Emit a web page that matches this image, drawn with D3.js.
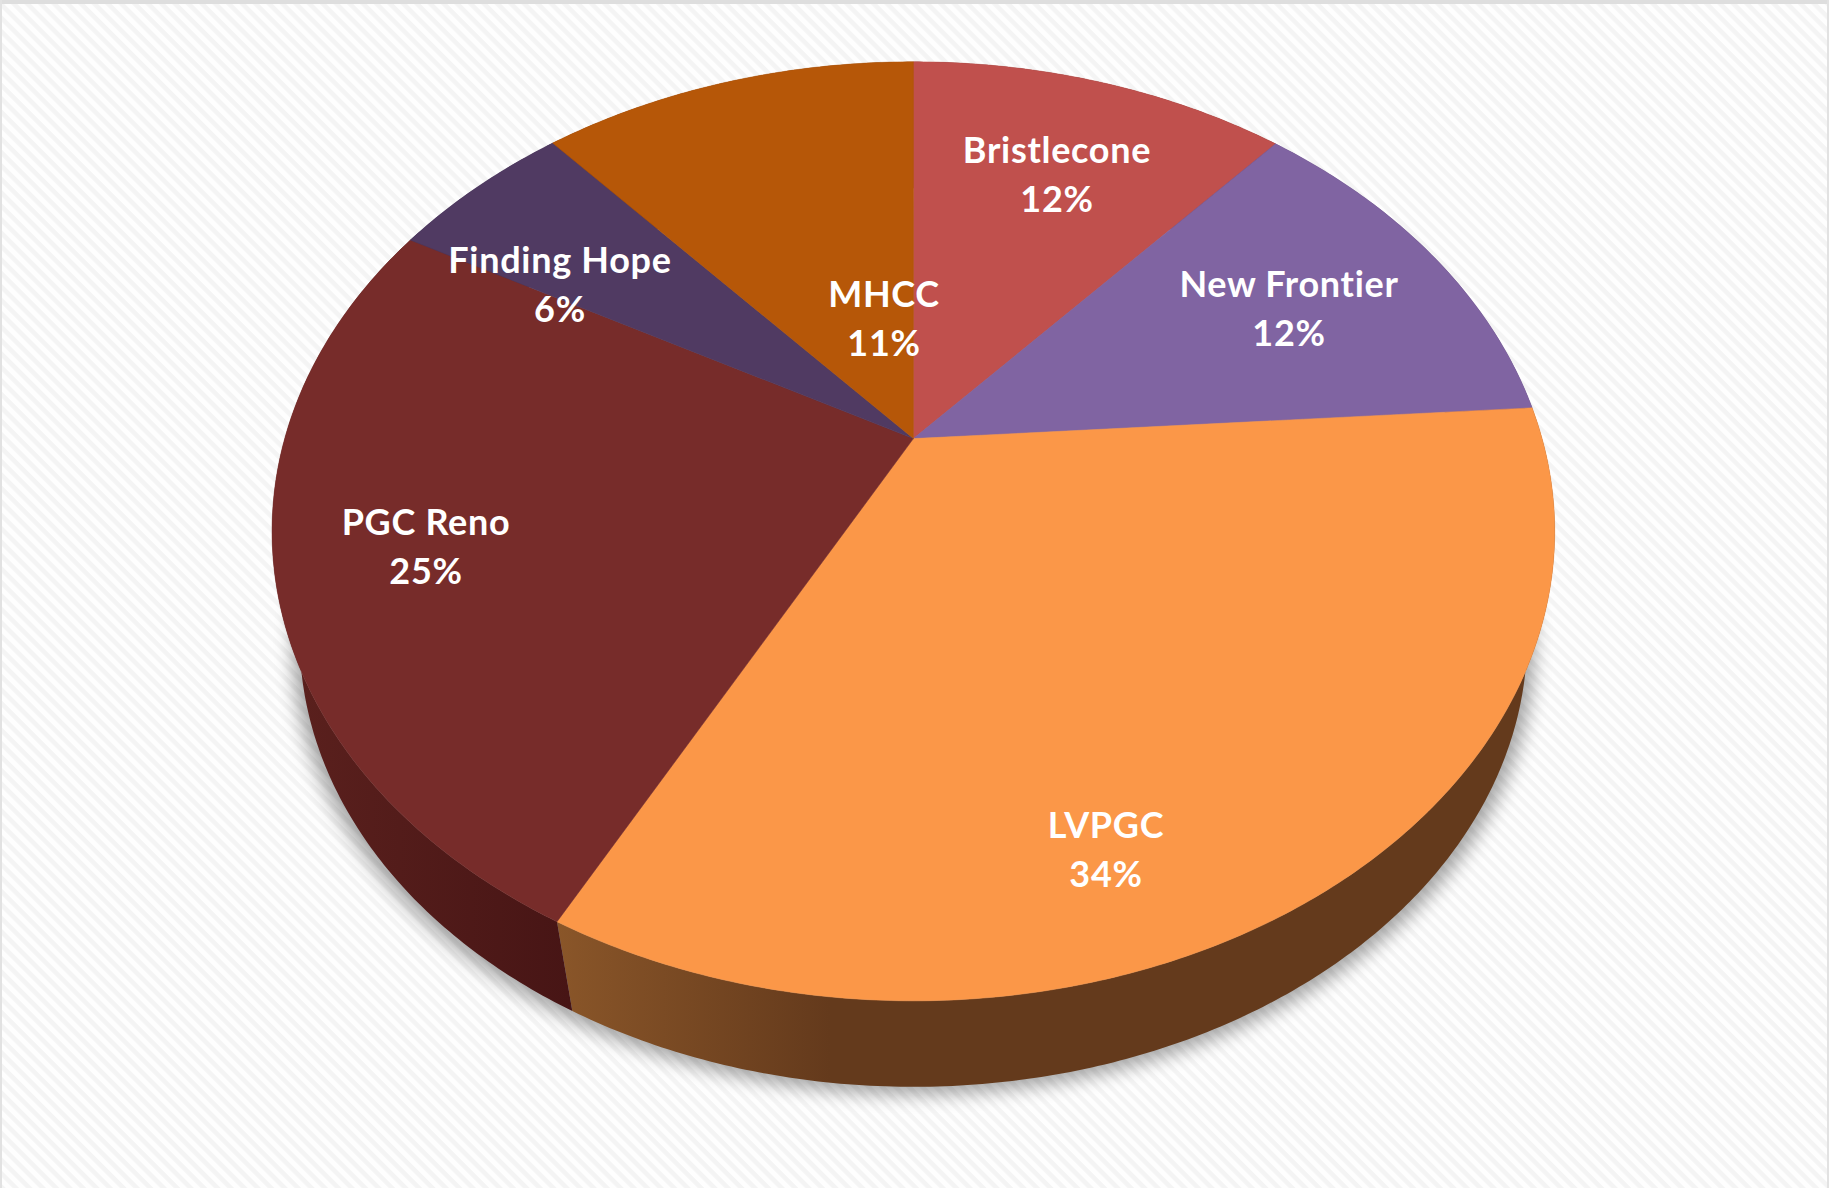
<!DOCTYPE html>
<html>
<head>
<meta charset="utf-8">
<style>
  html, body { margin: 0; padding: 0; background: #fff; overflow: hidden; }
  text { font-family: Lato, "Open Sans", sans-serif; font-weight: 700; fill: #fff; font-variant-ligatures: none; letter-spacing: 0.7px; }
</style>
<script src="https://cdn.jsdelivr.net/npm/d3@7"></script>
</head>
<body>
<script>
const names = ["Bristlecone", "New Frontier", "LVPGC", "PGC Reno", "Finding Hope", "MHCC"];
const shares = [11.5, 12.4, 33.85, 25.25, 5.55, 11.45];
const percentLabels = ["12%", "12%", "34%", "25%", "6%", "11%"];
const topColors = ["#c0504d", "#8064a2", "#fb9748", "#772c2a", "#503a62", "#b65708"];

const width = 1829, height = 1188;

// where the pie sits on the page, the tilt is a plain perspective so the centre
// of the circle lands above the middle of the ellipse
const cx = 913.4, cy = 438.6;
const rx = 628.7, ry = 451.2, tilt = 0.1975;

// the underside is the top outline pulled towards a vanishing point below the page
const vanishY = 3000, bottomScale = 0.957;

// label centre x and first baseline, same order as names
const labelSpots = [[1057, 163], [1289, 297], [1106, 838], [426, 535], [560, 273], [884, 307]];
const lineGap = 49;

function topPoint(angle, r) {
    const u = r * Math.sin(angle), v = -r * Math.cos(angle);
    const w = 1 - tilt * v;
    return [cx + rx * u / w, cy + ry * v / w];
}

function bottomPoint(angle) {
    const p = topPoint(angle, 1);
    return [cx + (p[0] - cx) * bottomScale, vanishY - (vanishY - p[1]) * bottomScale];
}

function arcAngles(a0, a1) {
    const n = Math.max(2, Math.ceil((a1 - a0) / 0.01));
    return d3.range(n + 1).map(i => a0 + (a1 - a0) * i / n);
}

const line = d3.line();

const pie = d3.pie().sort(null).value(d => d)(shares);

const svg = d3.select("body").append("svg")
    .attr("width", width)
    .attr("height", height)
    .style("display", "block");

const defs = svg.append("defs");

const stripes = defs.append("pattern")
    .attr("id", "stripes")
    .attr("patternUnits", "userSpaceOnUse")
    .attr("width", 9.5)
    .attr("height", 9.5)
    .attr("patternTransform", "rotate(45)");
stripes.append("rect").attr("width", 9.5).attr("height", 9.5).attr("fill", "#fefefe");
stripes.append("rect").attr("width", 9.5).attr("height", 4.5).attr("fill", "#f4f4f4");

defs.append("filter")
    .attr("id", "blur")
    .attr("x", "-10%").attr("y", "-10%").attr("width", "120%").attr("height", "120%")
    .append("feGaussianBlur").attr("stdDeviation", 9);

function sideGradient(id, x1, x2, stops) {
    const g = defs.append("linearGradient")
        .attr("id", id)
        .attr("gradientUnits", "userSpaceOnUse")
        .attr("x1", x1).attr("x2", x2).attr("y1", 0).attr("y2", 0);
    stops.forEach((c, i) => g.append("stop").attr("offset", i / (stops.length - 1)).attr("stop-color", c));
}
sideGradient("side2", 555, 830, ["#8a5629", "#643a1c"]);
sideGradient("side3", 300, 570, ["#5a201d", "#471515"]);

const sideFill = ["#602320", "#4d3c61", "url(#side2)", "url(#side3)", "#2f2340", "#6d3405"];

// background and window edge
svg.append("rect").attr("width", width).attr("height", height).attr("fill", "url(#stripes)");
svg.append("rect").attr("width", width).attr("height", 4).attr("fill", "#dedede");
svg.append("rect").attr("width", 2).attr("height", height).attr("fill", "#e2e2e2");
svg.append("rect").attr("x", width - 2).attr("width", 2).attr("height", height).attr("fill", "#e2e2e2");

// soft shadow under the disc, a bit wider than the disc itself
svg.append("path")
    .attr("d", line(arcAngles(0, 2 * Math.PI).map(a => {
        const p = bottomPoint(a);
        return [cx + (p[0] - cx) * 1.012, p[1] + 8];
    })) + "Z")
    .attr("fill", "#000")
    .attr("opacity", 0.34)
    .attr("filter", "url(#blur)");

// side wall
svg.append("g").selectAll("path")
    .data(pie)
    .enter()
    .append("path")
    .attr("fill", (d, i) => sideFill[i])
    .attr("d", d => {
        const angles = arcAngles(d.startAngle, d.endAngle);
        const upper = angles.map(a => topPoint(a, 1));
        const lower = angles.slice().reverse().map(bottomPoint);
        return line(upper.concat(lower)) + "Z";
    });

// top face
svg.append("g").selectAll("path")
    .data(pie)
    .enter()
    .append("path")
    .attr("fill", (d, i) => topColors[i])
    .attr("stroke", (d, i) => topColors[i])
    .attr("stroke-width", 0.5)
    .attr("d", d => line([[cx, cy]].concat(arcAngles(d.startAngle, d.endAngle).map(a => topPoint(a, 1)))) + "Z");

// labels
const labels = svg.append("g").selectAll("text")
    .data(names)
    .enter()
    .append("text")
    .attr("text-anchor", "middle")
    .attr("font-size", 36);

labels.append("tspan")
    .attr("x", (d, i) => labelSpots[i][0])
    .attr("y", (d, i) => labelSpots[i][1])
    .text(d => d);

labels.append("tspan")
    .attr("x", (d, i) => labelSpots[i][0])
    .attr("y", (d, i) => labelSpots[i][1] + lineGap)
    .text((d, i) => percentLabels[i]);
</script>
</body>
</html>
